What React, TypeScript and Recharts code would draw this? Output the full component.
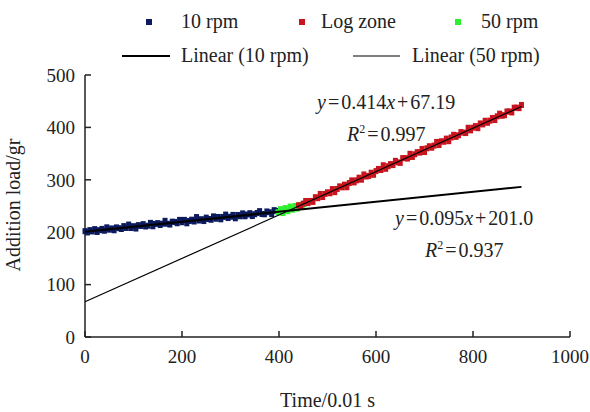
import React from 'react';
import { ScatterChart, Scatter, XAxis, YAxis } from 'recharts';

type Pt = { x: number; y: number };
const pts = (rows: number[][]): Pt[] => rows.map(([x, y]) => ({ x, y }));

// 10 rpm samples
const rpm10 = pts([
    [0, 202.0], [5, 199.5], [10, 204.0], [15, 201.4], [20, 205.9], [25, 200.4], [30, 203.9], [35, 206.3],
    [40, 202.8], [45, 209.3], [50, 204.8], [55, 207.2], [60, 203.7], [65, 209.2], [70, 207.7], [75, 206.1],
    [80, 211.6], [85, 208.1], [90, 214.6], [95, 208.0], [100, 211.5], [105, 207.0], [110, 213.5], [115, 211.9],
    [120, 215.4], [125, 210.9], [130, 212.4], [135, 217.8], [140, 211.3], [145, 215.8], [150, 217.3], [155, 213.7],
    [160, 216.2], [165, 221.7], [170, 216.2], [175, 214.6], [180, 220.1], [185, 219.6], [190, 217.1], [195, 223.5],
    [200, 219.0], [205, 223.5], [210, 217.0], [215, 221.4], [220, 223.9], [225, 220.4], [230, 228.9], [235, 222.3],
    [240, 224.8], [245, 221.3], [250, 227.8], [255, 225.2], [260, 223.7], [265, 230.2], [270, 225.7], [275, 229.1],
    [280, 224.6], [285, 229.1], [290, 233.6], [295, 227.0], [300, 229.5], [305, 233.0], [310, 226.5], [315, 232.9],
    [320, 230.4], [325, 235.9], [330, 230.4], [335, 233.8], [340, 236.3], [345, 230.8], [350, 234.3], [355, 236.7],
    [360, 240.2], [365, 234.7], [370, 234.2], [375, 239.6], [380, 238.1], [385, 234.6], [390, 242.1], [395, 240.5],
    [400, 240.0],
]);

// 50 rpm samples
const rpm50 = pts([
    [398, 238.0], [403, 244.0], [408, 236.5], [413, 246.0], [418, 240.0], [423, 249.0], [428, 243.0],
    [433, 250.0], [438, 245.0], [443, 252.0], [448, 248.0], [452, 254.0],
]);

// Log zone samples
const logZone = pts([
    [440, 251.4], [445, 248.4], [450, 254.5], [455, 259.6], [460, 255.6], [465, 259.7], [470, 257.8], [475, 266.8],
    [480, 264.9], [485, 273.0], [490, 267.1], [495, 273.1], [500, 276.2], [505, 274.3], [510, 282.3], [515, 276.4],
    [520, 282.5], [525, 287.5], [530, 285.6], [535, 290.7], [540, 285.8], [545, 293.8], [550, 298.9], [555, 295.0],
    [560, 299.0], [565, 304.1], [570, 300.2], [575, 310.2], [580, 306.3], [585, 307.4], [590, 313.5], [595, 309.5],
    [600, 316.6], [605, 320.7], [610, 318.7], [615, 327.8], [620, 320.9], [625, 325.9], [630, 330.0], [635, 328.1],
    [640, 336.2], [645, 333.2], [650, 332.3], [655, 341.4], [660, 341.4], [665, 340.5], [670, 349.6], [675, 343.6],
    [680, 348.7], [685, 352.8], [690, 351.9], [695, 358.9], [700, 353.0], [705, 360.1], [710, 364.1], [715, 361.2],
    [720, 365.3], [725, 372.3], [730, 366.4], [735, 373.5], [740, 372.6], [745, 378.6], [750, 373.7], [755, 380.8],
    [760, 385.8], [765, 381.9], [770, 385.0], [775, 391.0], [780, 390.1], [785, 389.2], [790, 399.3], [795, 394.3],
    [800, 399.4], [805, 402.5], [810, 398.5], [815, 407.6], [820, 405.7], [825, 412.7], [830, 408.8], [835, 412.9],
    [840, 418.0], [845, 414.0], [850, 421.1], [855, 426.2], [860, 422.2], [865, 423.3], [870, 430.4], [875, 430.4],
    [880, 428.5], [885, 437.6], [890, 437.7], [895, 436.7], [900, 442.8],
]);

// trend line end points
const linear10 = pts([[0, 201.0], [900, 286.5]]);
const linear50 = pts([[0, 67.19], [900, 439.8]]);

const xTicks = [0, 200, 400, 600, 800, 1000];
const yTicks = [0, 100, 200, 300, 400, 500];

const FONT = '"Liberation Serif", "Times New Roman", serif';
const BLUE = '#0c1a5e';
const RED = '#c8141e';
const GREEN = '#2df02d';

const square = (color: string) => (props: any) => (
    <rect x={props.cx - 2.5} y={props.cy - 3} width={5} height={6} fill={color} />
);
const noDot = () => <g />;

// equation text with italic variables and tight spacing
const Equation = ({ x, y, k, b }: { x: number; y: number; k: string; b: string }) => (
    <text x={x} y={y} fontSize={20}>
        <tspan fontStyle="italic">y</tspan>
        <tspan dx={2}>=</tspan>
        <tspan dx={2}>{k}</tspan>
        <tspan fontStyle="italic">x</tspan>
        <tspan dx={2}>+</tspan>
        <tspan dx={2}>{b}</tspan>
    </text>
);
const RSquared = ({ x, y, r }: { x: number; y: number; r: string }) => (
    <text x={x} y={y} fontSize={20}>
        <tspan fontStyle="italic">R</tspan>
        <tspan fontSize={12} dy={-8}>2</tspan>
        <tspan dy={8} dx={2}>=</tspan>
        <tspan dx={2}>{r}</tspan>
    </text>
);

export default function App() {
    const tick = { fontFamily: FONT, fontSize: 19, fill: '#222' };
    return (
        <div style={{ position: 'absolute', left: 0, top: 0, width: 590, height: 412, background: '#fff' }}>
            <ScatterChart width={590} height={412} margin={{ top: 75, right: 20, bottom: 35, left: 25 }}>
                <XAxis
                    type="number"
                    dataKey="x"
                    domain={[0, 1000]}
                    ticks={xTicks}
                    height={40}
                    tickSize={-6}
                    tickMargin={19}
                    tick={tick}
                    stroke="#222"
                    strokeWidth={1.5}
                    label={{ value: 'Time/0.01 s', position: 'bottom', offset: 16, style: { fontFamily: FONT, fontSize: 20, fill: '#222' } }}
                />
                <YAxis
                    type="number"
                    dataKey="y"
                    domain={[0, 500]}
                    ticks={yTicks}
                    width={60}
                    tickSize={-6}
                    tickMargin={16}
                    tick={tick}
                    stroke="#222"
                    strokeWidth={1.5}
                />
                <Scatter data={rpm10} shape={square(BLUE)} isAnimationActive={false} />
                <Scatter data={rpm50} shape={square(GREEN)} isAnimationActive={false} />
                <Scatter data={logZone} shape={square(RED)} isAnimationActive={false} />
                <Scatter data={linear10} shape={noDot} line={{ stroke: '#000', strokeWidth: 2 }} isAnimationActive={false} />
                <Scatter data={linear50} shape={noDot} line={{ stroke: '#000', strokeWidth: 1.2 }} isAnimationActive={false} />
            </ScatterChart>
            <svg width={590} height={412} style={{ position: 'absolute', left: 0, top: 0, pointerEvents: 'none' }}
                fontFamily={FONT} fill="#222">
                {/* legend */}
                <rect x={146} y={19} width={6} height={6} fill={BLUE} />
                <text x={181} y={28} fontSize={20}>10 rpm</text>
                <rect x={299} y={19} width={6} height={6} fill={RED} />
                <text x={321} y={28} fontSize={20}>Log zone</text>
                <rect x={455} y={19} width={6} height={6} fill={GREEN} />
                <text x={481} y={28} fontSize={20}>50 rpm</text>
                <line x1={122} x2={170} y1={56} y2={56} stroke="#000" strokeWidth={2.2} />
                <text x={181} y={62} fontSize={20}>Linear (10 rpm)</text>
                <line x1={353} x2={400} y1={56} y2={56} stroke="#000" strokeWidth={1.2} />
                <text x={412} y={62} fontSize={20}>Linear (50 rpm)</text>

                {/* y axis title */}
                <text x={0} y={0} fontSize={20} textAnchor="middle" transform="translate(20 205) rotate(-90)">
                    Addition load/gr
                </text>

                {/* fit equations */}
                <Equation x={317} y={109} k="0.414" b="67.19" />
                <RSquared x={347} y={141} r="0.997" />
                <Equation x={395} y={225} k="0.095" b="201.0" />
                <RSquared x={425} y={257} r="0.937" />
            </svg>
        </div>
    );
}
